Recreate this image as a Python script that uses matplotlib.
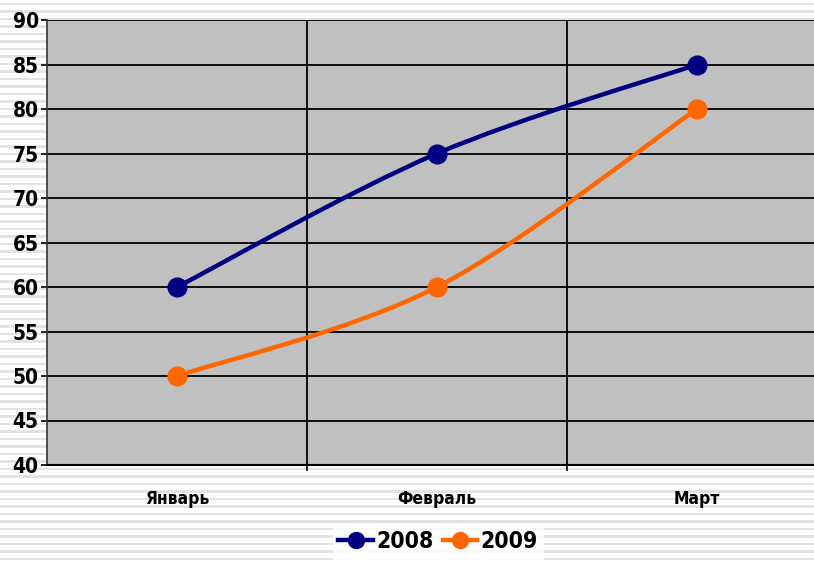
import numpy as np
import matplotlib.pyplot as plt
from matplotlib.path import Path
from matplotlib.patches import PathPatch
from matplotlib.lines import Line2D

months = ['Январь', 'Февраль', 'Март']
y2008 = [60, 75, 85]
y2009 = [50, 60, 80]
series = [('2008', y2008, '#000080'), ('2009', y2009, '#FF6600')]

plt.rcParams['font.family'] = ['DejaVu Sans']
plt.rcParams['font.stretch'] = 'condensed'
plt.rcParams['font.weight'] = 'bold'

fig = plt.figure(figsize=(8.14, 5.62), dpi=100)
fig.patch.set_facecolor('white')

# striped slide background
bg = fig.add_axes([0, 0, 1, 1], zorder=-10)
bg.set_xlim(0, 1)
bg.set_ylim(0, 562)
for yy in np.arange(2, 562, 7.5):
    bg.axhspan(yy, yy + 2.2, color='#e3e3e3', lw=0)
bg.axis('off')

ax = fig.add_axes([47 / 814, 97 / 562, 780 / 814, 445 / 562])
ax.set_facecolor('#C0C0C0')
ax.set_xlim(-0.5, 2.5)
ax.set_ylim(40, 90)
ax.set_yticks(np.arange(40, 91, 5))
ax.set_xticks(range(len(months)))
ax.set_xticklabels(months, fontsize=12.5, fontweight='bold')
ax.set_xticks([0.5, 1.5], minor=True)
ax.tick_params(axis='x', which='major', length=0, pad=18)
ax.tick_params(axis='x', which='minor', length=4.5, width=1.2, color='black')
ax.tick_params(axis='y', length=4.5, width=1.2, labelsize=15, pad=1.5)
for lab in ax.get_yticklabels():
    lab.set_fontweight('bold')
ax.grid(axis='y', which='major', color='black', lw=1.3)
ax.grid(axis='x', which='minor', color='black', lw=1.3)
ax.set_axisbelow(True)
for side in ['top', 'right']:
    ax.spines[side].set_visible(False)
ax.spines['left'].set_color('#333333')
ax.spines['bottom'].set_color('black')
ax.spines['left'].set_linewidth(1.2)
ax.spines['bottom'].set_linewidth(1.5)

fig.canvas.draw()


def smooth_path(xs, ys):
    # Excel-style smoothed line: bezier segments with catmull-rom controls in screen space
    pts = ax.transData.transform(np.column_stack([xs, ys]))
    n = len(pts)
    verts = [pts[0]]
    codes = [Path.MOVETO]
    for i in range(n - 1):
        p0 = pts[max(i - 1, 0)]
        p1 = pts[i]
        p2 = pts[i + 1]
        p3 = pts[min(i + 2, n - 1)]
        c1 = p1 + (p2 - p0) / 6
        c2 = p2 - (p3 - p1) / 6
        verts += [c1, c2, p2]
        codes += [Path.CURVE4] * 3
    verts = ax.transData.inverted().transform(np.array(verts))
    return Path(verts, codes)


handles = []
for name, vals, col in series:
    xs = np.arange(len(vals))
    patch = PathPatch(smooth_path(xs, vals), fill=False, edgecolor=col, lw=3.2,
                      capstyle='round', zorder=3)
    ax.add_patch(patch)
    ax.plot(xs, vals, ls='none', marker='o', color=col, markersize=13.5, zorder=4)
    handles.append(Line2D([], [], color=col, lw=3.2, marker='o', markersize=11.5, label=name))

leg = fig.legend(handles=handles, loc='lower center', bbox_to_anchor=(438 / 814, -0.015),
                 ncol=2, frameon=True, fancybox=False, fontsize=16.5, handlelength=1.5,
                 handletextpad=0.15, columnspacing=0.4, borderpad=0.25)
leg.get_frame().set_edgecolor('white')
leg.get_frame().set_facecolor('white')
for t in leg.get_texts():
    t.set_fontweight('bold')

plt.savefig('out.png', dpi=100)
